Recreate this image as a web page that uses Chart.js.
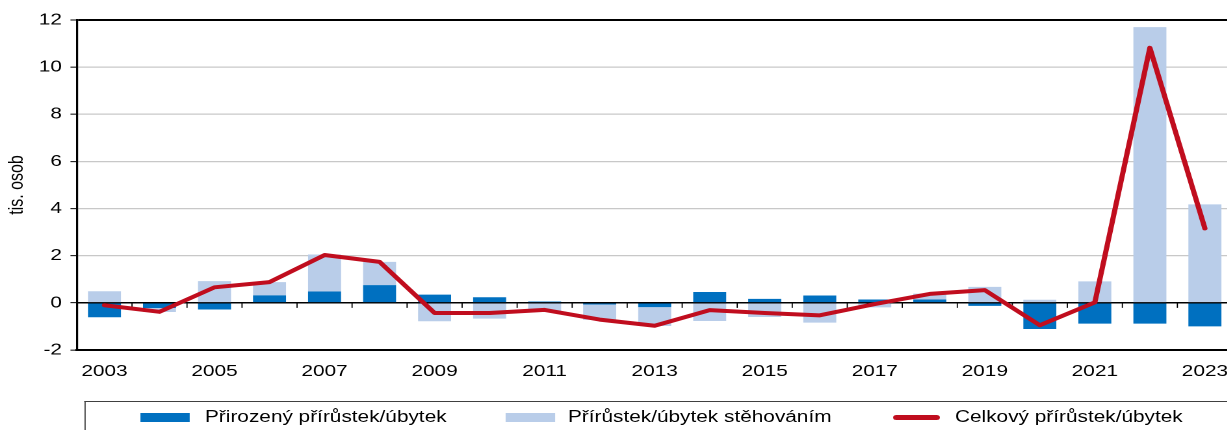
<!DOCTYPE html>
<html>
<head>
<meta charset="utf-8">
<script src="https://cdn.jsdelivr.net/npm/chart.js@4/dist/chart.umd.min.js"></script>
<style>
body{margin:0;overflow:hidden;background:#fff;width:1227px;height:430px}
#wrap{position:relative;width:948px;height:430px;transform:scaleX(1.3);transform-origin:0 0;font-family:"Liberation Sans",Arial,sans-serif;color:#000}
#chart{position:absolute;left:0;top:0}
#legbox{position:absolute;left:65px;top:401px;width:900px;height:40px;border:1.5px solid #404040;border-right:none;box-sizing:border-box}
.sw{position:absolute;top:413px;height:9px}
.tx{position:absolute;top:408px;line-height:18px;font-size:16px;white-space:nowrap}
</style>
</head>
<body>
<div id="wrap">
<canvas id="chart" width="948" height="401"></canvas>
<div id="legbox"></div>
<div class="sw" style="left:107.7px;width:38.5px;background:#0070c0"></div>
<div class="tx" style="left:157.7px">Přirozený přírůstek/úbytek</div>
<div class="sw" style="left:388.5px;width:38.5px;background:#b9cde9"></div>
<div class="tx" style="left:436.9px">Přírůstek/úbytek stěhováním</div>
<div class="sw" style="left:687px;width:36px;top:415px;height:5px;border-radius:2.5px;background:#c00d1e"></div>
<div class="tx" style="left:734.6px">Celkový přírůstek/úbytek</div>
</div>
<script>
const years = ["2003","2004","2005","2006","2007","2008","2009","2010","2011","2012","2013","2014","2015","2016","2017","2018","2019","2020","2021","2022","2023"];

const natural = [-0.61,-0.22,-0.28,0.32,0.48,0.75,0.35,0.24,0.06,-0.07,-0.18,0.46,0.17,0.31,0.14,0.14,-0.13,-1.11,-0.88,-0.88,-1.00];

const migration = [0.49,-0.17,0.92,0.56,1.57,0.99,-0.78,-0.67,-0.36,-0.65,-0.80,-0.77,-0.60,-0.84,-0.19,0.25,0.68,0.13,0.91,11.70,4.18];

const total = [-0.10,-0.38,0.66,0.88,2.03,1.74,-0.43,-0.43,-0.30,-0.71,-0.97,-0.31,-0.43,-0.53,-0.05,0.38,0.54,-0.95,0.02,10.82,3.16];

const yMin = -2, yMax = 12, yStep = 2;

Chart.defaults.font.family = '"Liberation Sans", Arial, sans-serif';
Chart.defaults.font.size = 16;
Chart.defaults.color = "#000";

// zero axis with category tick marks, drawn over the bars but under the line
const zeroLine = {
id: "zeroLine",
beforeDatasetDraw(chart, args) {
if (args.meta.type !== "line") return;
const ctx = chart.ctx;
const x = chart.scales.x;
const y0 = chart.scales.y.getPixelForValue(0);
const a = chart.chartArea;
ctx.save();
ctx.strokeStyle = "#000";
ctx.lineWidth = 1.2;
ctx.beginPath();
ctx.moveTo(a.left, y0);
ctx.lineTo(a.right, y0);
ctx.stroke();
ctx.lineWidth = 0.9;
ctx.beginPath();
for (let i = 1; i < years.length; i++) {
const px = (x.getPixelForValue(i - 1) + x.getPixelForValue(i)) / 2;
ctx.moveTo(px, y0);
ctx.lineTo(px, y0 + 5);
}
ctx.stroke();
ctx.restore();
}
};

new Chart(
document.getElementById("chart"),
{
type: "bar",
data: {
labels: years,
datasets: [
{
label: "Celkový přírůstek/úbytek",
type: "line",
data: total,
borderColor: "#c00d1e",
borderWidth: 4,
pointRadius: 0,
tension: 0,
borderJoinStyle: "round",
borderCapStyle: "round",
order: 0
},
{
label: "Přirozený přírůstek/úbytek",
data: natural,
backgroundColor: "#0070c0",
barPercentage: 0.6,
categoryPercentage: 1,
order: 1
},
{
label: "Přírůstek/úbytek stěhováním",
data: migration,
backgroundColor: "#b9cde9",
barPercentage: 0.6,
categoryPercentage: 1,
order: 1
}
]
},
options: {
responsive: false,
devicePixelRatio: 2,
animation: false,
layout: { padding: { top: 20, left: 0, right: 0, bottom: 11 } },
plugins: { legend: { display: false }, tooltip: { enabled: false } },
scales: {
x: {
stacked: true,
afterFit: s => { s.height = 40; s.paddingLeft = 0; s.paddingRight = 0; },
grid: { display: false },
border: { display: true, color: "#000", width: 2 },
ticks: {
autoSkip: false,
maxRotation: 0,
padding: 4,
callback: (v, i) => (i % 2 === 0 ? years[i] : "")
}
},
y: {
stacked: true,
min: yMin,
max: yMax,
afterFit: s => { s.width = 59.2; },
ticks: { stepSize: yStep, padding: 6.5 },
grid: {
color: c => ([yMax, 0, yMin].includes(c.tick.value) ? "#000" : "#c8c8c8"),
lineWidth: c => (c.tick.value === yMax ? 2 : 1.3),
tickColor: "#000",
tickLength: 5,
tickWidth: 1
},
border: { color: "#000", width: 1.6 },
title: { display: true, text: "tis. osob", padding: { top: 3.5, bottom: 0 } }
}
}
},
plugins: [zeroLine]
}
);
</script>
</body>
</html>
